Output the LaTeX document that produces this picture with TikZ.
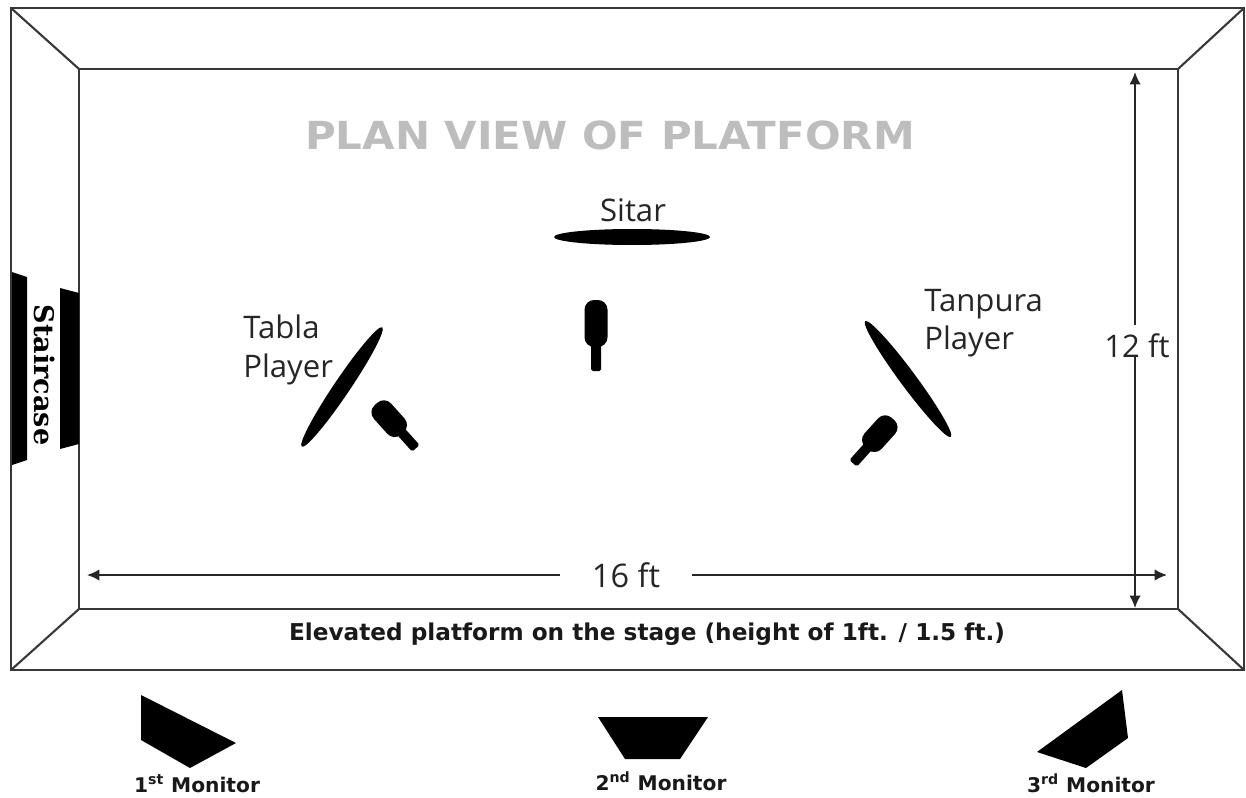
\documentclass[tikz,border=0pt]{standalone}
\usepackage{fontspec}
\setmainfont{Open Sans}
\newfontfamily\titlefont{DejaVu Sans}
\newfontfamily\stairfont{DejaVu Serif}
\usetikzlibrary{shapes.geometric,arrows.meta}
\definecolor{edgegray}{HTML}{383838}
\definecolor{titlegray}{HTML}{BDBDBD}
\tikzset{
  frameline/.style={draw=edgegray,line width=1.2pt},
  dimline/.style={draw=black!85,line width=1pt,-{Latex[length=7pt,width=6.5pt]}},
  mat/.style={ellipse,fill=black,inner sep=0pt,minimum width=144*0.02cm,minimum height=16*0.02cm},
  blob/.style={fill=black},
  lbl/.style={font=\fontsize{17.7}{22}\selectfont,text=black!85,inner sep=0pt,align=left},
  monlbl/.style={font=\fontsize{11.5}{14}\selectfont\titlefont\bfseries,text=black!90,inner sep=0pt,anchor=base},
  bottle/.pic={
    \fill[black,rounded corners=5.5pt] (-11.5,0) rectangle (11.5,47);
    \fill[black,rounded corners=1pt] (-5,44) rectangle (5,71);
  }
}
\begin{document}
\begin{tikzpicture}[x=0.02cm,y=-0.02cm]
  \useasboundingbox (0,0) rectangle (1246,797);
  \coordinate (o1) at (11,8);
  \coordinate (o2) at (1244,8);
  \coordinate (o3) at (1244,670);
  \coordinate (o4) at (11,670);
  \coordinate (i1) at (79,69);
  \coordinate (i2) at (1178,69);
  \coordinate (i3) at (1178,609);
  \coordinate (i4) at (79,609);
  \draw[frameline] (o1) -- (o2) -- (o3) -- (o4) -- cycle;
  \draw[frameline] (i1) -- (i2) -- (i3) -- (i4) -- cycle;
  \begin{scope}[frameline]
    \draw (o1) to (i1);
    \draw (o2) to (i2);
    \draw (o3) to (i3);
    \draw (o4) to (i4);
  \end{scope}
  % staircase
  \fill[blob] (12,272) -- (27,277) -- (27,460) -- (12,465) -- cycle;
  \fill[blob] (60,288) -- (79,293) -- (79,444) -- (60,449) -- cycle;
  \node[rotate=-90,inner sep=0pt,font=\fontsize{15.4}{18}\selectfont\stairfont\bfseries] (stair) at (45,375) {Staircase};
  % title and players
  \node[inner sep=0pt,text=titlegray,xscale=1.085,font=\fontsize{22}{26}\selectfont\titlefont\bfseries] (title) at (610,135) {PLAN VIEW OF PLATFORM};
  \node[lbl] (sitarlbl) at (633,210) {Sitar};
  \node[mat,minimum width=156*0.02cm] (sitar) at (632,237) {};
  \node[lbl,anchor=west] (tablalbl) at (243,350) {Tabla\\Player};
  \node[mat,rotate=56] (tabla) at (342,387) {};
  \node[lbl,anchor=west] (tanpuralbl) at (924,323) {Tanpura\\Player};
  \node[mat,rotate=-53.5] (tanpura) at (908,379) {};
  \pic at (596,300) {bottle};
  \pic[rotate=42,yscale=0.84] at (376,404) {bottle};
  \pic[rotate=-42,yscale=0.84] at (893,419) {bottle};
  % dimensions
  \coordinate (w1) at (87,575);
  \coordinate (w2) at (1167,575);
  \coordinate (h1) at (1135,72);
  \coordinate (h2) at (1135,608);
  \coordinate (h3) at (1135,325);
  \coordinate (h4) at (1135,357);
  \node[lbl,font=\fontsize{18.5}{22}\selectfont,inner xsep=32*0.02cm,inner ysep=2pt] (width) at (626,575) {16 ft};
  \node[lbl] (height) at (1137,346) {12 ft};
  \draw[dimline] (width) -- (w1);
  \draw[dimline] (width) -- (w2);
  \draw[dimline] (h3) -- (h1);
  \draw[dimline] (h4) -- (h2);
  \node[inner sep=0pt,text=black!90,font=\fontsize{13.2}{15}\selectfont\titlefont\bfseries] (elev) at (647,634) {Elevated platform on the stage (height of 1ft. / 1.5 ft.)};
  % monitors
  \fill[blob] (141,695) -- (236,743) -- (190,768) -- (141,740) -- cycle;
  \fill[blob] (598,717) -- (708,717) -- (680,759) -- (625,759) -- cycle;
  \fill[blob] (1122,690) -- (1128,738) -- (1086,768) -- (1037,752) -- cycle;
  \node[monlbl] (mon1) at (197,792) {1\textsuperscript{st} Monitor};
  \node[monlbl] (mon2) at (661,790) {2\textsuperscript{nd} Monitor};
  \node[monlbl] (mon3) at (1091,792) {3\textsuperscript{rd} Monitor};
\end{tikzpicture}
\end{document}
